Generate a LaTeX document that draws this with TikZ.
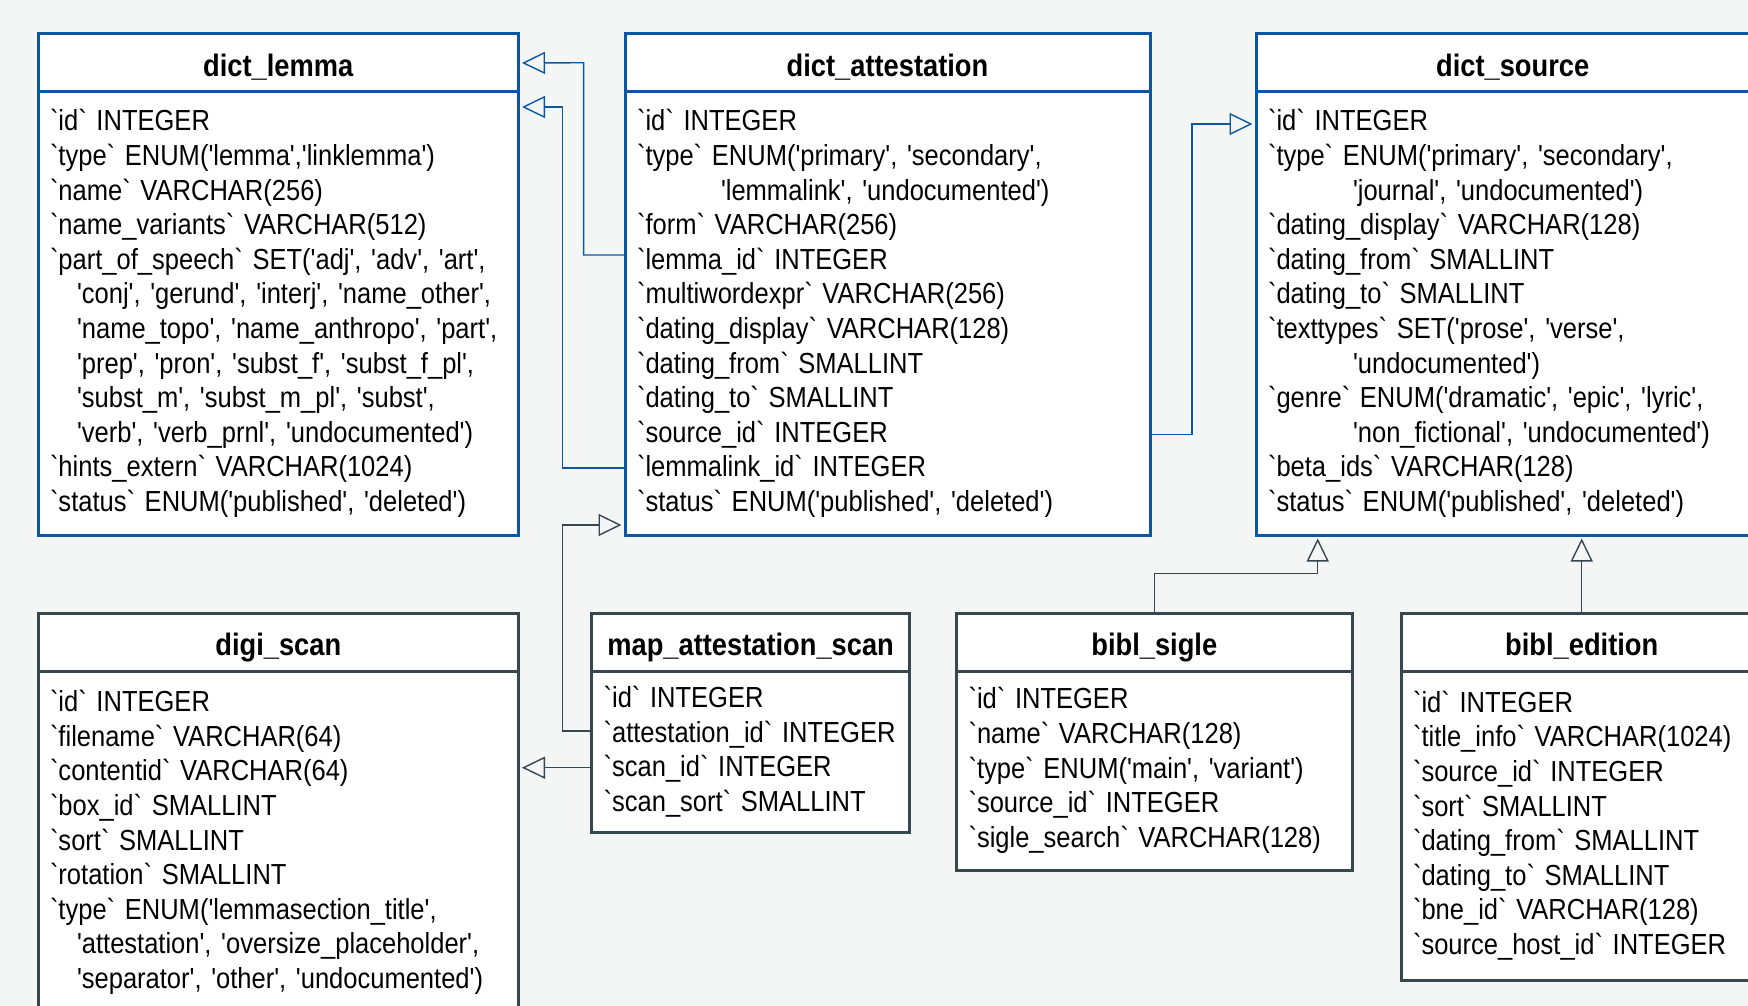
\documentclass[tikz,border=0pt]{standalone}
\usepackage{fontspec}
\setmainfont{Liberation Sans}[FakeStretch=0.88, Ligatures=TeXOff]
\usetikzlibrary{positioning,arrows.meta}

\definecolor{dictblue}{HTML}{0B57A4}
\definecolor{biblgrey}{HTML}{37474F}
\definecolor{canvas}{HTML}{F4F6F6}

\tikzset{
  tblbox/.style={draw, line width=3pt, fill=white, outer sep=0pt, inner xsep=12pt},
  tblhead/.style={tblbox, anchor=north west, text width=#1, align=center,
    minimum height=58pt, text height=27pt, text depth=0pt,
    font=\fontsize{31}{36}\selectfont\bfseries},
  tblbody/.style={tblbox, text width=#1, align=left,
    font=\fontsize{29}{34.6}\selectfont},
  fk/.style={line width=1.4pt, -{Triangle[open, length=23pt, width=22pt]},
    shorten >=3.5pt}
}

\begin{document}
\begin{tikzpicture}[x=1pt, y=-1pt]
  \useasboundingbox (0,0) rectangle (1748,1006);
  \fill[canvas] (0,0) rectangle (1748,1006);
  \clip (0,0) rectangle (1748,1006);

  % dict tables (blue)
  \node[tblhead=456.5pt, draw=dictblue] (lemma-head) at (38,34) {dict\_lemma};
  \node[tblbody=456.5pt, draw=dictblue, below=0pt of lemma-head, minimum height=443pt] (lemma) {%
    `id` INTEGER\\
    `type` ENUM('lemma','linklemma')\\
    `name` VARCHAR(256)\\
    `name\_variants` VARCHAR(512)\\
    `part\_of\_speech` SET('adj', 'adv', 'art',\\
    \hspace*{27pt}'conj', 'gerund', 'interj', 'name\_other',\\
    \hspace*{27pt}'name\_topo', 'name\_anthropo', 'part',\\
    \hspace*{27pt}'prep', 'pron', 'subst\_f', 'subst\_f\_pl',\\
    \hspace*{27pt}'subst\_m', 'subst\_m\_pl', 'subst',\\
    \hspace*{27pt}'verb', 'verb\_prnl', 'undocumented')\\
    `hints\_extern` VARCHAR(1024)\\
    `status` ENUM('published', 'deleted')};

  \node[tblhead=501pt, draw=dictblue] (att-head) at (625,34) {dict\_attestation};
  \node[tblbody=501pt, draw=dictblue, below=0pt of att-head, minimum height=443pt] (att) {%
    `id` INTEGER\\
    `type` ENUM('primary', 'secondary',\\
    \hspace*{84pt}'lemmalink', 'undocumented')\\
    `form` VARCHAR(256)\\
    `lemma\_id` INTEGER\\
    `multiwordexpr` VARCHAR(256)\\
    `dating\_display` VARCHAR(128)\\
    `dating\_from` SMALLINT\\
    `dating\_to` SMALLINT\\
    `source\_id` INTEGER\\
    `lemmalink\_id` INTEGER\\
    `status` ENUM('published', 'deleted')};

  \node[tblhead=489.4pt, draw=dictblue] (source-head) at (1256,34) {dict\_source};
  \node[tblbody=489.4pt, draw=dictblue, below=0pt of source-head, minimum height=443pt] (source) {%
    `id` INTEGER\\
    `type` ENUM('primary', 'secondary',\\
    \hspace*{85pt}'journal', 'undocumented')\\
    `dating\_display` VARCHAR(128)\\
    `dating\_from` SMALLINT\\
    `dating\_to` SMALLINT\\
    `texttypes` SET('prose', 'verse',\\
    \hspace*{85pt}'undocumented')\\
    `genre` ENUM('dramatic', 'epic', 'lyric',\\
    \hspace*{85pt}'non\_fictional', 'undocumented')\\
    `beta\_ids` VARCHAR(128)\\
    `status` ENUM('published', 'deleted')};

  % other tables (grey)
  \node[tblhead=456.5pt, draw=biblgrey] (scan-head) at (38,613) {digi\_scan};
  \node[tblbody=456.5pt, draw=biblgrey, below=0pt of scan-head, minimum height=343pt] (scan) {%
    `id` INTEGER\\
    `filename` VARCHAR(64)\\
    `contentid` VARCHAR(64)\\
    `box\_id` SMALLINT\\
    `sort` SMALLINT\\
    `rotation` SMALLINT\\
    `type` ENUM('lemmasection\_title',\\
    \hspace*{27pt}'attestation', 'oversize\_placeholder',\\
    \hspace*{27pt}'separator', 'other', 'undocumented')};

  \node[tblhead=294pt, draw=biblgrey] (map-head) at (591.6,613) {map\_attestation\_scan};
  \node[tblbody=294pt, draw=biblgrey, below=0pt of map-head, minimum height=161pt] (map) {%
    `id` INTEGER\\
    `attestation\_id` INTEGER\\
    `scan\_id` INTEGER\\
    `scan\_sort` SMALLINT};

  \node[tblhead=371.5pt, draw=biblgrey] (sigle-head) at (956.5,613) {bibl\_sigle};
  \node[tblbody=371.5pt, draw=biblgrey, below=0pt of sigle-head, minimum height=199pt] (sigle) {%
    `id` INTEGER\\
    `name` VARCHAR(128)\\
    `type` ENUM('main', 'variant')\\
    `source\_id` INTEGER\\
    `sigle\_search` VARCHAR(128)};

  \node[tblhead=337.4pt, draw=biblgrey] (edition-head) at (1401,613) {bibl\_edition};
  \node[tblbody=337.4pt, draw=biblgrey, below=0pt of edition-head, minimum height=309pt] (edition) {%
    `id` INTEGER\\
    `title\_info` VARCHAR(1024)\\
    `source\_id` INTEGER\\
    `sort` SMALLINT\\
    `dating\_from` SMALLINT\\
    `dating\_to` SMALLINT\\
    `bne\_id` VARCHAR(128)\\
    `source\_host\_id` INTEGER};

  % foreign keys
  \draw[fk, dictblue] (att.west |- 0,255) -| (583.6,62.75) -- (lemma-head.east);
  \draw[fk, dictblue] (att.west |- 0,468) -| (562.6,107) -- (lemma.east |- 0,107);
  \draw[fk, dictblue] (att.east |- 0,434.5) -| (1192,124) -- (source.west |- 0,124);
  \draw[fk, biblgrey] (map.west |- 0,731) -| (562.6,525) -- (att.west |- 0,525);
  \draw[fk, biblgrey] (map.west |- 0,767.7) -- (scan.east |- 0,767.7);
  \draw[fk, biblgrey] (sigle-head.north) |- (1317.7,573.6) -- (source.south -| 1317.7,0);
  \draw[fk, biblgrey] (edition-head.north) -- (source.south -| edition-head.north);
\end{tikzpicture}
\end{document}
